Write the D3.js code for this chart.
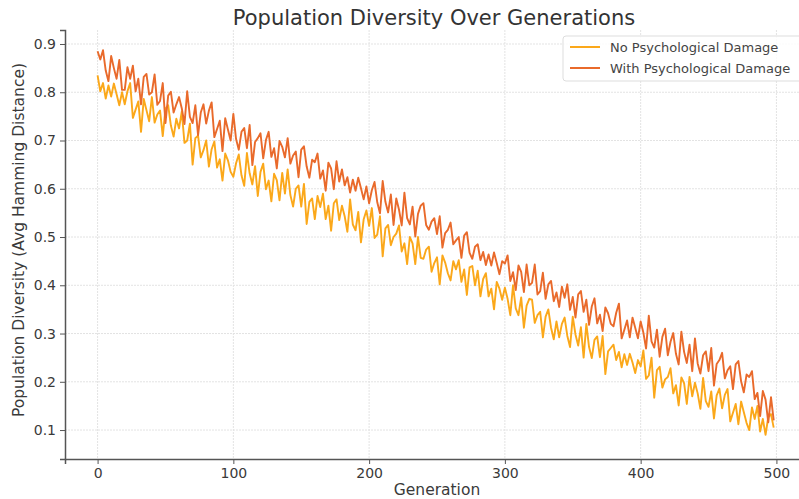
<!DOCTYPE html>
<html>
<head>
<meta charset="utf-8">
<script src="https://cdn.jsdelivr.net/npm/d3@7"></script>
<style>
html,body{margin:0;padding:0;background:#fff;overflow:hidden;}
svg{display:block;}
</style>
</head>
<body>
<svg id="chart" width="799" height="499"></svg>
<script>
// Generations sampled every 2 steps (0..498)
const generations = d3.range(0, 500, 2);

const noDamage = [
0.835,0.802,0.819,0.787,0.814,0.791,0.818,0.796,0.773,0.800,
0.775,0.802,0.819,0.747,0.764,0.781,0.718,0.786,0.763,0.740,
0.790,0.737,0.754,0.762,0.709,0.766,0.773,0.731,0.708,0.745,
0.725,0.760,0.695,0.700,0.735,0.650,0.705,0.710,0.665,0.680,
0.700,0.646,0.682,0.698,0.644,0.661,0.617,0.673,0.659,0.635,
0.625,0.653,0.671,0.628,0.606,0.674,0.632,0.609,0.647,0.585,
0.635,0.652,0.599,0.617,0.574,0.631,0.618,0.576,0.633,0.590,
0.640,0.587,0.563,0.600,0.607,0.563,0.610,0.527,0.573,0.580,
0.537,0.585,0.562,0.590,0.537,0.565,0.513,0.570,0.578,0.535,
0.565,0.543,0.511,0.578,0.526,0.514,0.552,0.489,0.537,0.555,
0.523,0.560,0.498,0.505,0.543,0.460,0.518,0.525,0.483,0.500,
0.507,0.524,0.470,0.487,0.444,0.500,0.487,0.444,0.500,0.457,
0.455,0.474,0.480,0.428,0.446,0.458,0.402,0.462,0.447,0.425,
0.410,0.450,0.433,0.452,0.407,0.433,0.380,0.437,0.440,0.400,
0.430,0.377,0.413,0.425,0.377,0.393,0.350,0.407,0.393,0.370,
0.395,0.372,0.338,0.400,0.352,0.338,0.375,0.312,0.358,0.372,
0.370,0.322,0.338,0.345,0.292,0.335,0.350,0.312,0.288,0.325,
0.292,0.320,0.333,0.295,0.272,0.335,0.298,0.275,0.313,0.250,
0.320,0.272,0.249,0.287,0.294,0.251,0.295,0.216,0.263,0.270,
0.277,0.245,0.262,0.230,0.257,0.235,0.258,0.240,0.218,0.245,
0.232,0.265,0.206,0.213,0.250,0.167,0.224,0.231,0.188,0.205,
0.210,0.228,0.176,0.193,0.151,0.209,0.197,0.154,0.210,0.170,
0.198,0.176,0.144,0.208,0.160,0.148,0.180,0.124,0.172,0.186,
0.145,0.173,0.185,0.118,0.136,0.154,0.112,0.159,0.137,0.115,
0.100,0.147,0.123,0.150,0.097,0.123,0.090,0.127,0.133,0.105
];

const withDamage = [
0.885,0.868,0.887,0.845,0.823,0.875,0.850,0.828,0.867,0.805,
0.805,0.852,0.828,0.855,0.802,0.828,0.775,0.832,0.838,0.795,
0.800,0.837,0.774,0.782,0.819,0.736,0.793,0.801,0.758,0.775,
0.790,0.767,0.734,0.802,0.749,0.736,0.773,0.711,0.758,0.775,
0.735,0.762,0.779,0.707,0.724,0.741,0.678,0.746,0.723,0.700,
0.755,0.703,0.681,0.718,0.726,0.684,0.732,0.649,0.697,0.705,
0.715,0.663,0.701,0.718,0.666,0.684,0.642,0.699,0.687,0.665,
0.705,0.652,0.669,0.677,0.624,0.681,0.688,0.646,0.623,0.660,
0.655,0.673,0.621,0.638,0.596,0.654,0.642,0.599,0.657,0.615,
0.640,0.607,0.624,0.592,0.619,0.596,0.623,0.601,0.578,0.605,
0.570,0.597,0.614,0.572,0.549,0.616,0.573,0.551,0.588,0.525,
0.580,0.557,0.524,0.592,0.539,0.526,0.563,0.501,0.548,0.565,
0.570,0.525,0.515,0.532,0.539,0.506,0.543,0.478,0.508,0.515,
0.530,0.485,0.493,0.500,0.457,0.503,0.510,0.467,0.455,0.480,
0.485,0.452,0.469,0.442,0.464,0.441,0.468,0.446,0.423,0.450,
0.445,0.462,0.409,0.427,0.390,0.441,0.428,0.386,0.443,0.400,
0.405,0.443,0.381,0.388,0.426,0.372,0.402,0.409,0.367,0.385,
0.355,0.397,0.374,0.402,0.349,0.376,0.333,0.381,0.388,0.345,
0.370,0.318,0.356,0.373,0.321,0.339,0.305,0.354,0.342,0.320,
0.315,0.343,0.362,0.290,0.308,0.327,0.292,0.333,0.312,0.290,
0.325,0.302,0.269,0.337,0.284,0.271,0.308,0.252,0.293,0.310,
0.255,0.283,0.301,0.258,0.236,0.304,0.262,0.239,0.277,0.222,
0.290,0.238,0.217,0.255,0.263,0.222,0.270,0.192,0.237,0.245,
0.260,0.207,0.224,0.232,0.185,0.236,0.243,0.201,0.178,0.215,
0.210,0.222,0.164,0.177,0.129,0.181,0.163,0.116,0.168,0.120
];

const seriesNames = ["No Psychological Damage", "With Psychological Damage"];
const seriesColors = ["#FBA81A", "#E96A2B"];
const xTicks = [0, 100, 200, 300, 400, 500];
const yTicks = [0.1, 0.2, 0.3, 0.4, 0.5, 0.6, 0.7, 0.8, 0.9];

const svg = d3.select("#chart");
const margin = {left: 65, top: 30, right: 809, bottom: 459};

const x = d3.scaleLinear().domain([-24, 524]).range([margin.left, margin.right]);
const y = d3.scaleLinear().domain([0.04, 0.929]).range([margin.bottom, margin.top]);

const font = "DejaVu Sans, sans-serif";

// grid
const grid = svg.append("g");
grid.selectAll(".gx").data(xTicks).enter().append("line")
  .attr("x1", d => x(d)).attr("x2", d => x(d))
  .attr("y1", margin.top).attr("y2", margin.bottom)
  .attr("stroke", "#e3e3e3").attr("stroke-width", 1).attr("stroke-dasharray", "2,1");
grid.selectAll(".gy").data(yTicks).enter().append("line")
  .attr("x1", margin.left).attr("x2", margin.right)
  .attr("y1", d => y(d)).attr("y2", d => y(d))
  .attr("stroke", "#e3e3e3").attr("stroke-width", 1).attr("stroke-dasharray", "2,1");

// lines
const allSeries = [noDamage, withDamage];
const line = d3.line().x((d, i) => x(generations[i])).y(d => y(d));
allSeries.forEach((s, k) => {
  svg.append("path").datum(s)
    .attr("fill", "none")
    .attr("stroke", seriesColors[k])
    .attr("stroke-width", 1.9)
    .attr("stroke-linejoin", "round")
    .attr("d", line);
});

// axes
const xAxis = d3.axisBottom(x).tickValues(xTicks).tickSize(5).tickPadding(4).tickFormat(d3.format("d"));
const yAxis = d3.axisLeft(y).tickValues(yTicks).tickSize(5).tickPadding(4).tickFormat(d3.format(".1f"));

const gx = svg.append("g").attr("transform", `translate(0,${margin.bottom})`).call(xAxis);
const gy = svg.append("g").attr("transform", `translate(${margin.left},0)`).call(yAxis);
[gx, gy].forEach(g => {
  g.select(".domain").attr("stroke", "#555").attr("stroke-width", 1.5);
  g.selectAll(".tick line").attr("stroke", "#555");
  g.selectAll(".tick text").attr("fill", "#3a3a3a").style("font-family", font).style("font-size", "14px");
});

// title & labels
svg.append("text").attr("x", 434).attr("y", 25).attr("text-anchor", "middle")
  .style("font-family", font).style("font-size", "21px").attr("fill", "#333")
  .text("Population Diversity Over Generations");
svg.append("text").attr("x", 437).attr("y", 495).attr("text-anchor", "middle")
  .style("font-family", font).style("font-size", "15.5px").attr("fill", "#3a3a3a")
  .text("Generation");
svg.append("text").attr("transform", `translate(24,${240}) rotate(-90)`)
  .attr("text-anchor", "middle")
  .style("font-family", font).style("font-size", "15.5px").attr("fill", "#3a3a3a")
  .text("Population Diversity (Avg Hamming Distance)");

// legend
const lg = svg.append("g").attr("transform", "translate(563,36)");
lg.append("rect").attr("x", 0).attr("y", 0).attr("width", 250).attr("height", 45).attr("rx", 3)
  .attr("fill", "#fff").attr("fill-opacity", 0.85).attr("stroke", "#ddd");
seriesNames.forEach((n, i) => {
  const yy = 11 + i * 21;
  lg.append("line").attr("x1", 7).attr("x2", 37).attr("y1", yy).attr("y2", yy)
    .attr("stroke", seriesColors[i]).attr("stroke-width", 2);
  lg.append("text").attr("x", 47).attr("y", yy + 4.5)
    .style("font-family", font).style("font-size", "13px").attr("fill", "#444").text(n);
});
</script>
</body>
</html>
